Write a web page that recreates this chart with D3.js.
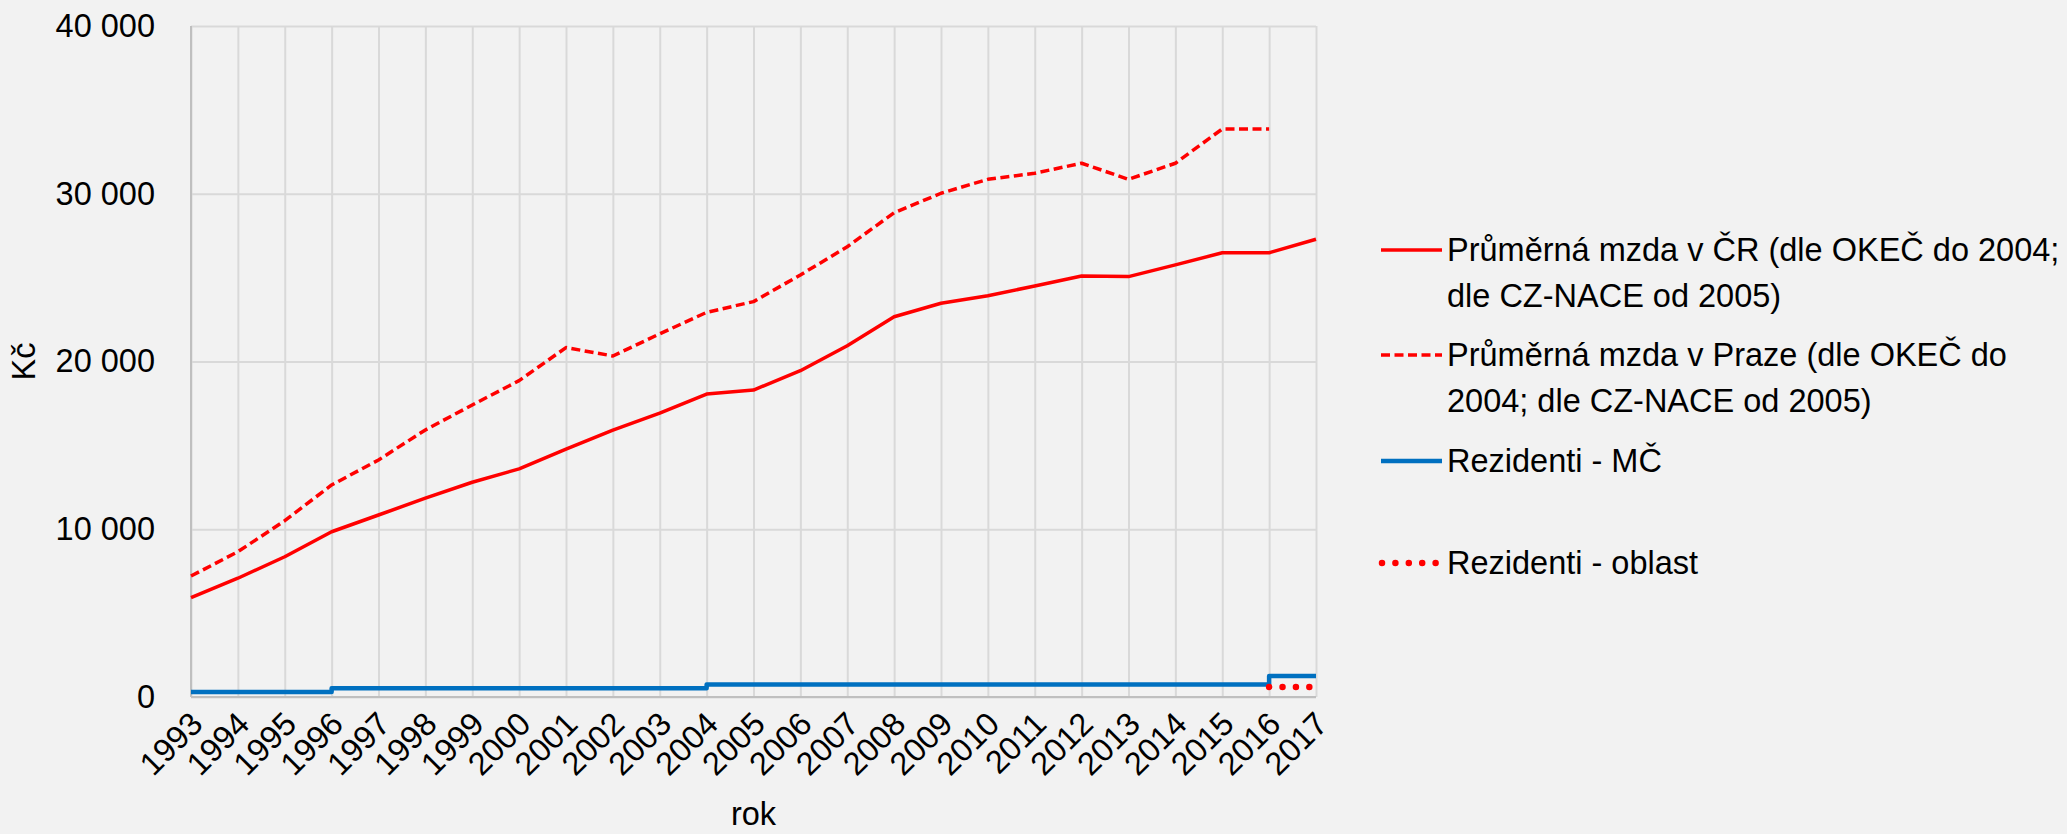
<!DOCTYPE html>
<html>
<head>
<meta charset="utf-8">
<script src="https://cdn.jsdelivr.net/npm/d3@7"></script>
<style>
	body { margin: 0; background: #f2f2f2; }
	svg { display: block; font-family: 'Liberation Sans', Arial, sans-serif; }
</style>
</head>
<body>
<div id="chart"></div>
<script>
const years = [1993, 1994, 1995, 1996, 1997, 1998, 1999, 2000, 2001, 2002, 2003, 2004, 2005,
	2006, 2007, 2008, 2009, 2010, 2011, 2012, 2013, 2014, 2015, 2016, 2017];
const yTicks = [0, 10000, 20000, 30000, 40000];

// Průměrná mzda v ČR
const mzdaCR = [5920, 7080, 8360, 9850, 10850, 11850, 12800, 13600, 14770, 15910, 16920, 18060, 18300,
	19450, 20940, 22670, 23470, 23920, 24500, 25100, 25060, 25760, 26480, 26480, 27290];
// Průměrná mzda v Praze (no value for 2017)
const mzdaPraha = [7210, 8660, 10510, 12640, 14130, 15920, 17410, 18860, 20830, 20330, 21650, 22930, 23570,
	25160, 26840, 28870, 30030, 30860, 31220, 31820, 30860, 31820, 33860, 33860, null];
// Rezidenti - MČ (step values)
const rezidentiMC = [300, 300, 300, 520, 520, 520, 520, 520, 520, 520, 520, 740, 740,
	740, 740, 740, 740, 740, 740, 740, 740, 740, 740, 1250, 1250];
// Rezidenti - oblast
const rezidentiOblast = [null, null, null, null, null, null, null, null, null, null, null, null, null,
	null, null, null, null, null, null, null, null, null, null, 600, 600];

const seriesNames = [
	['Průměrná mzda v ČR (dle OKEČ do 2004;', 'dle CZ-NACE od 2005)'],
	['Průměrná mzda v Praze (dle OKEČ do', '2004; dle CZ-NACE od 2005)'],
	['Rezidenti - MČ'],
	['Rezidenti - oblast']
];

function drawChart(containerId) {
	const options = {
		width: 2067,
		height: 834,
		margin: { top: 26, right: 751, bottom: 137, left: 191 },
		bgColor: '#f2f2f2',
		gridColor: '#d9d9d9',
		axisColor: '#bfbfbf',
		fontSize: 32.5
	};
	const w = options.width - options.margin.left - options.margin.right;
	const h = options.height - options.margin.top - options.margin.bottom;

	const czLocale = d3.formatLocale({ decimal: ',', thousands: ' ', grouping: [3], currency: ['', ' Kč'] });
	const fmt = czLocale.format(',d');

	var $svg = d3.select(`#${containerId}`).append('svg')
		.attr('width', options.width)
		.attr('height', options.height)
		.style('background-color', options.bgColor)
		.style('font-size', options.fontSize + 'px');

	var $g = $svg.append('g')
		.attr('transform', `translate(${options.margin.left},${options.margin.top})`);

	const x = d3.scaleLinear().domain([years[0], years[years.length - 1]]).range([0, w]);
	const y = d3.scaleLinear().domain([0, 40000]).range([h, 0]);

	// horizontal gridlines + y labels
	const $yAxis = $g.append('g')
		.call(d3.axisLeft(y).tickValues(yTicks).tickSize(-w).tickPadding(36).tickFormat(fmt));
	$yAxis.select('.domain').remove();
	$yAxis.selectAll('line').attr('stroke', options.gridColor).attr('stroke-width', 2);
	$yAxis.selectAll('text')
		.attr('fill', '#000')
		.style('font-size', options.fontSize + 'px')
		.style('font-family', 'Liberation Sans, Arial, sans-serif');

	// vertical gridlines + year labels
	const $xAxis = $g.append('g')
		.attr('transform', `translate(0,${h})`)
		.call(d3.axisBottom(x).tickValues(years).tickSize(-h).tickFormat(d3.format('d')));
	$xAxis.select('.domain').remove();
	$xAxis.selectAll('line').attr('stroke', options.gridColor).attr('stroke-width', 2);
	$xAxis.selectAll('text')
		.attr('fill', '#000')
		.attr('y', 0)
		.attr('dy', 0)
		.attr('text-anchor', 'end')
		.attr('transform', 'translate(13,29) rotate(-45)')
		.style('font-size', options.fontSize + 'px')
		.style('font-family', 'Liberation Sans, Arial, sans-serif');

	// axis lines
	$g.append('line')
		.attr('x1', 0).attr('x2', 0).attr('y1', 0).attr('y2', h)
		.attr('stroke', options.axisColor).attr('stroke-width', 2);
	$g.append('line')
		.attr('x1', 0).attr('x2', w).attr('y1', h).attr('y2', h)
		.attr('stroke', options.axisColor).attr('stroke-width', 2);

	const styles = [
		{ color: '#ff0000', width: 3.5, dash: null, cap: 'butt' },
		{ color: '#ff0000', width: 3.5, dash: '9 4.5', cap: 'butt' },
		{ color: '#0070c0', width: 4.5, dash: null, cap: 'butt' },
		{ color: '#ff0000', width: 6.5, dash: '0 13.4', cap: 'round' }
	];
	const allSeries = [mzdaCR, mzdaPraha, rezidentiMC, rezidentiOblast];

	const line = d3.line()
		.defined((d) => d.v !== null)
		.x((d) => x(d.year))
		.y((d) => y(d.v));

	allSeries.forEach((values, i) => {
		const pts = years.map((year, j) => ({ year: year, v: values[j] }));
		const st = styles[i];
		$g.append('path')
			.datum(pts)
			.attr('d', line.curve(i === 2 ? d3.curveStepAfter : d3.curveLinear))
			.attr('fill', 'none')
			.attr('stroke', st.color)
			.attr('stroke-width', st.width)
			.attr('stroke-dasharray', st.dash)
			.attr('stroke-linecap', st.cap)
			.attr('stroke-linejoin', 'round');
	});

	// axis titles
	$svg.append('text')
		.attr('transform', `translate(24,${options.margin.top + h / 2}) rotate(-90)`)
		.attr('text-anchor', 'middle')
		.attr('dy', '0.35em')
		.text('Kč');
	$svg.append('text')
		.attr('x', options.margin.left + w / 2)
		.attr('y', 825)
		.attr('text-anchor', 'middle')
		.text('rok');

	// legend
	const legendY = [250, 355, 461, 563];
	const lineHeight = 46;
	seriesNames.forEach((rows, i) => {
		const st = styles[i];
		const $item = $svg.append('g').attr('transform', `translate(1381,${legendY[i]})`);
		$item.append('line')
			.attr('x1', i === 3 ? 1 : 0).attr('x2', i === 3 ? 56 : 61)
			.attr('stroke', st.color)
			.attr('stroke-width', st.width)
			.attr('stroke-dasharray', st.dash)
			.attr('stroke-linecap', st.cap);
		rows.forEach((r, k) => {
			$item.append('text')
				.attr('x', 66)
				.attr('y', k * lineHeight)
				.attr('dy', '0.35em')
				.text(r);
		});
	});
}

drawChart('chart');
</script>
</body>
</html>
